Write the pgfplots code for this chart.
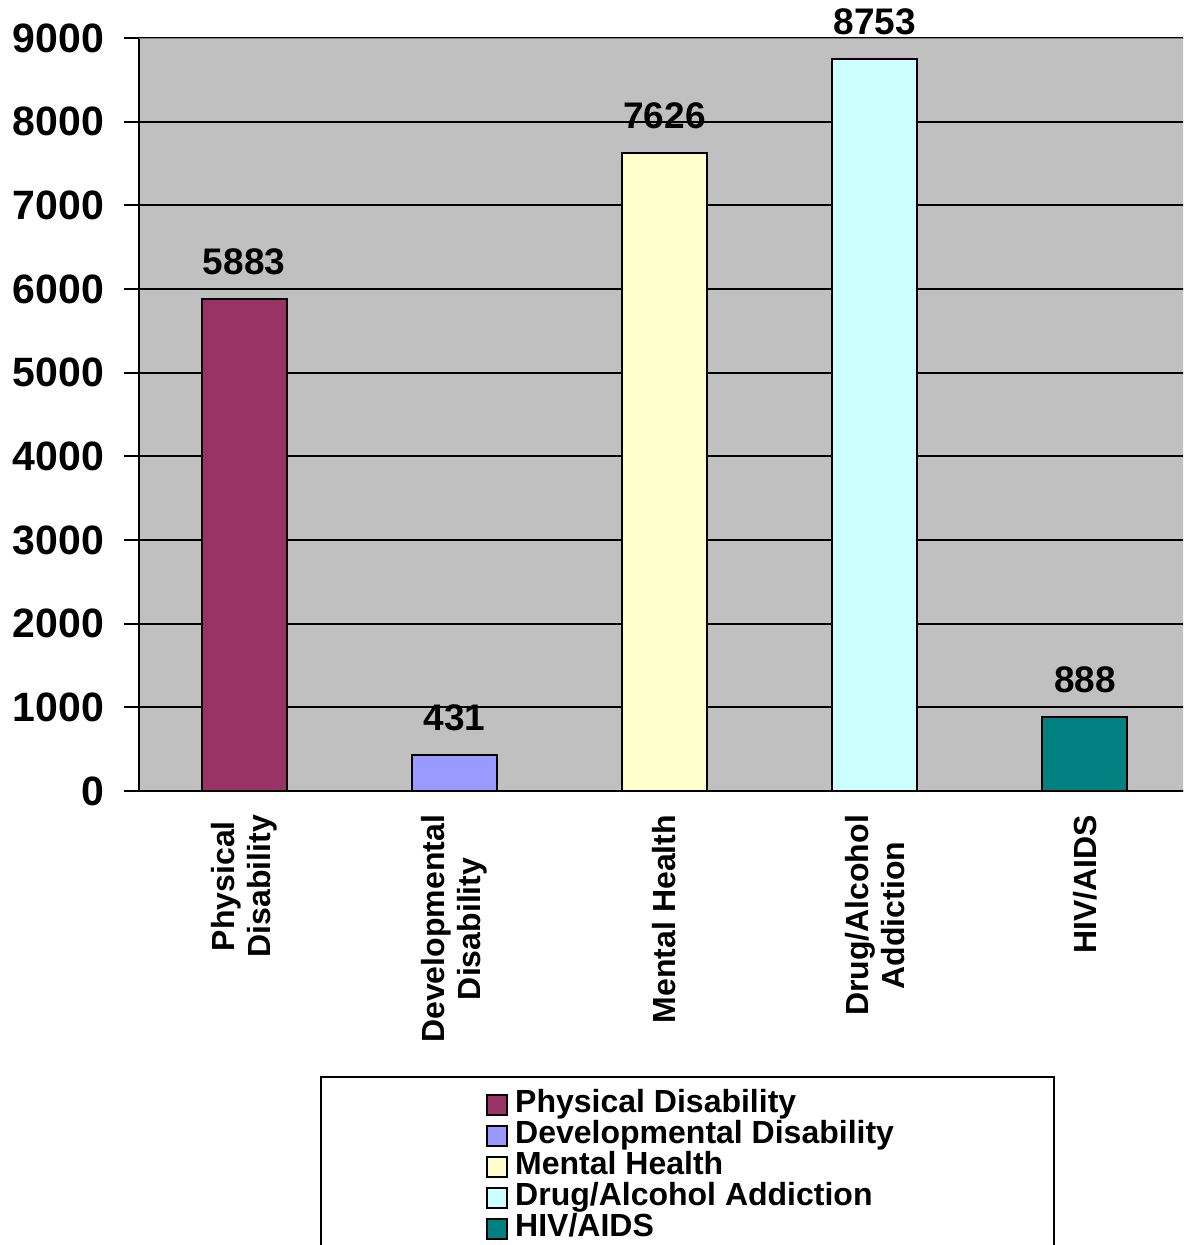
\documentclass[border=0pt]{standalone}
\usepackage{fontspec}
\setmainfont{Liberation Sans}
\usepackage{pgfplots}
\pgfplotsset{compat=1.18}
\definecolor{plotbg}{HTML}{C0C0C0}
\definecolor{physical}{HTML}{993366}
\definecolor{developmental}{HTML}{9999FF}
\definecolor{mental}{HTML}{FFFFCC}
\definecolor{drug}{HTML}{CCFFFF}
\definecolor{hiv}{HTML}{008080}
\definecolor{topline}{HTML}{808080}

\begin{document}
\begin{tikzpicture}
\clip (0,0) rectangle (591.5pt,622.5pt);
\useasboundingbox (0,0) rectangle (591.5pt,622.5pt);
\begin{axis}[
  at={(69.5pt,227pt)}, anchor=south west,
  scale only axis, width=525.5pt, height=376.5pt,
  xmin=0, xmax=5, ymin=0, ymax=9000,
  axis x line*=bottom, axis y line*=left,
  axis line style={black, line width=1pt},
  axis background/.style={fill=plotbg},
  ybar, bar shift=0pt, bar width=42.5pt,
  ytick={0,1000,...,9000},
  ymajorgrids, grid style={black, line width=1pt},
  xtick={0.5,1.5,2.5,3.5,4.5},
  xticklabels={{Physical\\Disability},{Developmental\\Disability},{Mental Health},{Drug/Alcohol\\Addiction},{HIV/AIDS}},
  minor xtick={0,1,2,3,4,5},
  tick align=outside,
  major tick length=7.5pt, minor tick length=5pt,
  xtick style={draw=none},
  minor x tick style={black, line width=1pt},
  ytick style={black, line width=1pt},
  /pgf/number format/assume math mode=true,
  /pgf/number format/set thousands separator={},
  yticklabel style={font=\fontsize{20.5}{24}\selectfont\bfseries, xshift=-6.5pt},
  xticklabel style={font=\fontsize{16}{18}\selectfont\bfseries, rotate=90, anchor=east, align=center, xshift=-1pt},
  nodes near coords,
  nodes near coords style={font=\fontsize{18.5}{22}\selectfont\bfseries, black, yshift=8pt},
  legend cell align=left,
  legend image code/.code={\draw[#1, draw=black, line width=1pt] (0pt,-5pt) rectangle (10pt,5pt);},
  legend style={at={(axis description cs:0.3243,-0.390)}, anchor=north west,
    draw=none, fill=none, font=\fontsize{16}{18}\selectfont\bfseries,
    row sep=0pt, nodes={inner sep=0pt, text height=11.5pt, text depth=4pt},
    /tikz/every odd column/.append style={column sep=3.5pt}},
]
\addplot[fill=physical, draw=black, line width=1pt] coordinates {(0.5,5883)};
\addlegendentry{Physical Disability}
\addplot[fill=developmental, draw=black, line width=1pt] coordinates {(1.5,431)};
\addlegendentry{Developmental Disability}
\addplot[fill=mental, draw=black, line width=1pt] coordinates {(2.5,7626)};
\addlegendentry{Mental Health}
\addplot[fill=drug, draw=black, line width=1pt] coordinates {(3.5,8753)};
\addlegendentry{Drug/Alcohol Addiction}
\addplot[fill=hiv, draw=black, line width=1pt] coordinates {(4.5,888)};
\addlegendentry{HIV/AIDS}
% grey frame line along the top of the plot area
\draw[topline, line width=1.2pt] (rel axis cs:0,1) -- (rel axis cs:1,1);
\end{axis}
% frame around the legend
\draw[black, line width=1pt] (160.5pt,84pt) rectangle (527pt,-20pt);
\end{tikzpicture}
\end{document}
